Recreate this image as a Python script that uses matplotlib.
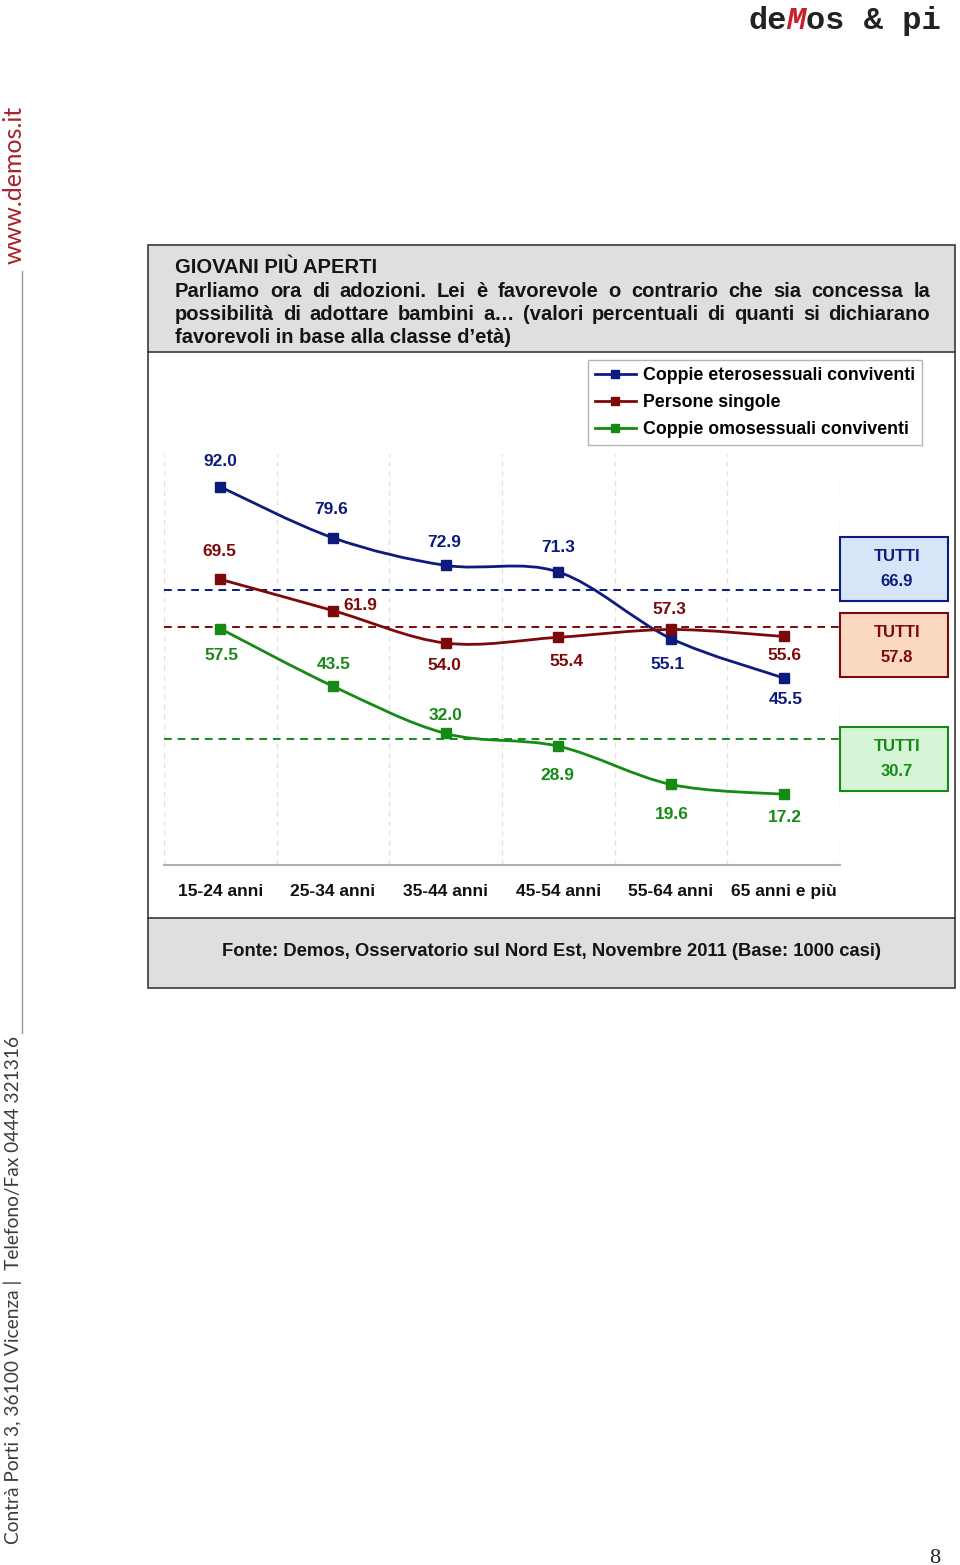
import numpy as np
import matplotlib
import matplotlib.pyplot as plt
from matplotlib.path import Path
from matplotlib.patches import PathPatch, Rectangle
from matplotlib.lines import Line2D

matplotlib.use('Agg')

# data
age_groups = ['15-24 anni', '25-34 anni', '35-44 anni', '45-54 anni', '55-64 anni', '65 anni e più']
etero = [92.0, 79.6, 72.9, 71.3, 55.1, 45.5]
singole = [69.5, 61.9, 54.0, 55.4, 57.3, 55.6]
omo = [57.5, 43.5, 32.0, 28.9, 19.6, 17.2]
tutti = [66.9, 57.8, 30.7]
series_names = ['Coppie eterosessuali conviventi', 'Persone singole', 'Coppie omosessuali conviventi']

# styling
colors = ['#0d1b7e', '#7d0a0a', '#158a15']
box_fill = ['#d6e6f8', '#fbd8c2', '#d6f5d6']
# label offsets in pixels (dx, dy) from each point
label_off = [
    [(0, 25), (-2, 28), (-1, 23), (0, 24), (-4, -26), (2, -22)],
    [(-1, 28), (27, 5), (-1, -22), (8, -24), (-2, 20), (1, -19)],
    [(1, -27), (1, 22), (0, 18), (-1, -29), (1, -30), (1, -23)],
]
box_tops = [537, 613, 727]

W, H = 960, 1565
SANS = ['Liberation Sans', 'DejaVu Sans']
MONO = ['Liberation Mono', 'DejaVu Sans Mono']


def fx(x):
    return x / W


def fy(y):
    return 1 - y / H


def smooth_path(xs, ys):
    # catmull-rom style bezier through the points, like excel's smoothed lines
    pts = np.column_stack([xs, ys]).astype(float)
    n = len(pts)
    verts = [pts[0]]
    codes = [Path.MOVETO]
    for i in range(n - 1):
        p0 = pts[max(i - 1, 0)]
        p1 = pts[i]
        p2 = pts[i + 1]
        p3 = pts[min(i + 2, n - 1)]
        verts += [p1 + (p2 - p0) / 6, p2 - (p3 - p1) / 6, p2]
        codes += [Path.CURVE4] * 3
    return Path(verts, codes)


def justify(fig, text, x0, x1, y, **kw):
    renderer = fig.canvas.get_renderer()
    words = text.split()
    items = [fig.text(0, fy(y), w, **kw) for w in words]
    widths = [t.get_window_extent(renderer).width for t in items]
    gap = (x1 - x0 - sum(widths)) / (len(words) - 1)
    x = x0
    for t, w in zip(items, widths):
        t.set_x(fx(x))
        x += w + gap


fig = plt.figure(figsize=(9.6, 15.65), dpi=100)

# page decorations
logo_kw = dict(family=MONO, weight='bold', fontsize=23, va='baseline')
fig.text(fx(748), fy(29), 'de', color='#222222', ha='left', **logo_kw)
fig.text(fx(796), fy(29), 'M', style='italic', color='#c8202a', ha='center', **logo_kw)
fig.text(fx(806), fy(29), 'os & pi', color='#222222', ha='left', **logo_kw)
fig.text(fx(14), fy(185), 'www.demos.it', family=['Lato', 'DejaVu Sans'], fontsize=18,
         color='#a8222c', rotation=90, ha='center', va='center')
fig.add_artist(Line2D([fx(22), fx(22)], [fy(271), fy(1033)], color='#9a9a9a', lw=1))
fig.text(fx(13), fy(1290), 'Contrà Porti 3, 36100 Vicenza |  Telefono/Fax 0444 321316',
         family=['Lato', 'DejaVu Sans'], fontsize=13.8, color='#3c3c3c', rotation=90,
         ha='center', va='center')
fig.text(fx(935), fy(1563), '8', family=['Liberation Serif', 'DejaVu Serif'], fontsize=16,
         color='#222222', ha='center', va='baseline')

# frame, header and footer
fig.add_artist(Rectangle((fx(148), fy(352)), fx(955) - fx(148), fy(245) - fy(352),
                         transform=fig.transFigure, facecolor='#dfdfdf', edgecolor='none'))
fig.add_artist(Rectangle((fx(148), fy(988)), fx(955) - fx(148), fy(918) - fy(988),
                         transform=fig.transFigure, facecolor='#dfdfdf', edgecolor='none'))
fig.add_artist(Rectangle((fx(148), fy(988)), fx(955) - fx(148), fy(245) - fy(988),
                         transform=fig.transFigure, facecolor='none', edgecolor='#3a3a3a', lw=1.2))
for yy in [352, 918]:
    fig.add_artist(Line2D([fx(148), fx(955)], [fy(yy), fy(yy)], color='#3a3a3a', lw=1.2))

head_kw = dict(family=SANS, weight='bold', fontsize=14.5, color='#141414', va='baseline', ha='left')
fig.text(fx(175), fy(273), 'GIOVANI PIÙ APERTI', **head_kw)
justify(fig, 'Parliamo ora di adozioni. Lei è favorevole o contrario che sia concessa la',
        175, 930, 297, **head_kw)
justify(fig, 'possibilità di adottare bambini a… (valori percentuali di quanti si dichiarano',
        175, 930, 320, **head_kw)
fig.text(fx(175), fy(343), 'favorevoli in base alla classe d’età)', **head_kw)
fig.text(fx(552), fy(952), 'Fonte: Demos, Osservatorio sul Nord Est, Novembre 2011 (Base: 1000 casi)',
         family=SANS, weight='bold', fontsize=13.2, color='#141414', ha='center', va='center')

# chart
ax = fig.add_axes([fx(164), fy(865), (840 - 164) / W, (865 - 454) / H])
ax.set_xlim(-0.5, 5.5)
ax.set_ylim(0, 100)
ax.patch.set_alpha(0)
for s in ['left', 'right', 'top']:
    ax.spines[s].set_visible(False)
ax.spines['bottom'].set_color('#b0b0b0')
ax.spines['bottom'].set_linewidth(1.5)
ax.set_yticks([])
x = np.arange(len(age_groups))
ax.set_xticks(x)
ax.set_xticklabels(age_groups, family=SANS, weight='bold', fontsize=12.5, color='#111111')
ax.tick_params(axis='x', length=0, pad=14)

for gx in np.arange(-0.5, 6, 1):
    ax.axvline(gx, color='#e4e4e4', lw=1, ls=(0, (4, 3)), zorder=0)

for val, c in zip(tutti, colors):
    ax.axhline(val, color=c, lw=1.4, ls=(0, (4, 3)), zorder=1)

for vals, c, offs in zip([etero, singole, omo], colors, label_off):
    ax.add_patch(PathPatch(smooth_path(x, vals), facecolor='none', edgecolor=c, lw=2, zorder=3))
    ax.plot(x, vals, ls='none', marker='s', ms=6.5, color=c, zorder=4)
    for xi, v, (dx, dy) in zip(x, vals, offs):
        ax.annotate(f'{v:.1f}', (xi, v), xytext=(dx, dy), textcoords='offset pixels',
                    ha='center', va='center', family=SANS, weight='bold', fontsize=12.5, color=c)

handles = [Line2D([], [], color=c, lw=2, marker='s', ms=5.5) for c in colors]
leg = ax.legend(handles, series_names, loc='upper left', bbox_to_anchor=(fx(588), fy(360)),
                bbox_transform=fig.transFigure, borderaxespad=0, borderpad=0.38,
                fancybox=False, framealpha=1, edgecolor='#b4b4b4', handlelength=2.3,
                handletextpad=0.4, labelspacing=0.58,
                prop=dict(family=SANS, weight='bold', size=12.8))
leg.get_frame().set_linewidth(1)

# TUTTI boxes
for top, val, c, fc in zip(box_tops, tutti, colors, box_fill):
    fig.add_artist(Rectangle((fx(840), fy(top + 64)), fx(948) - fx(840), fy(top) - fy(top + 64),
                             transform=fig.transFigure, facecolor=fc, edgecolor=c, lw=1.5))
    fig.text(fx(897), fy(top + 20), 'TUTTI', family=SANS, weight='bold', fontsize=12,
             color=c, ha='center', va='center')
    fig.text(fx(897), fy(top + 44), f'{val:.1f}', family=SANS, weight='bold', fontsize=12,
             color=c, ha='center', va='center')

plt.savefig('out.png', dpi=100)
